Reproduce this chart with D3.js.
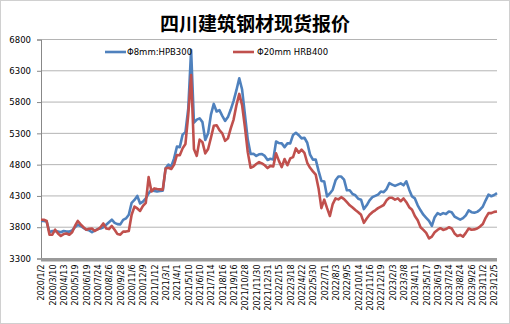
<!DOCTYPE html>
<html><head><meta charset="utf-8">
<script src="https://cdn.jsdelivr.net/npm/d3@7"></script>
<style>body{margin:0;background:#fff}svg{display:block}</style>
</head><body><svg id="c" width="510" height="324"></svg>
<script>
const title = "四川建筑钢材现货报价";
const seriesNames = ["Φ8mm:HPB300", "Φ20mm HRB400"];
const xLabels = ["2020/1/2","2020/3/10","2020/4/13","2020/5/19","2020/6/19","2020/7/24","2020/8/26","2020/9/28","2020/11/6","2020/12/9","2021/1/12","2021/3/1","2021/4/1","2021/5/10","2021/6/10","2021/7/14","2021/8/16","2021/9/16","2021/10/28","2021/11/30","2021/12/31","2022/2/15","2022/3/18","2022/4/22","2022/5/30","2022/7/1","2022/8/3","2022/9/5","2022/10/14","2022/11/16","2022/12/19","2023/2/3","2023/3/8","2023/4/11","2023/5/17","2023/6/19","2023/7/24","2023/8/24","2023/9/26","2023/11/2","2023/12/5"];
const yTicks = [3300,3800,4300,4800,5300,5800,6300,6800];
const hpb300 = [
3900,3900,3890,3720,3740,3740,3730,3720,3740,3730,
3730,3750,3800,3840,3820,3790,3760,3750,3720,3750,
3770,3780,3800,3840,3880,3920,3870,3850,3845,3917,
3940,4000,4190,4236,4300,4180,4210,4260,4340,4396,
4380,4370,4378,4385,4740,4800,4770,4900,5088,5080,
5280,5320,5700,6630,5470,5520,5540,5480,5193,5300,
5600,5770,5650,5670,5580,5500,5560,5680,5820,5990,
6180,6000,5600,5200,4970,4975,4940,4965,4970,4940,
4875,4895,4880,5170,5145,5140,5080,5140,5140,5275,
5310,5270,5220,5230,5150,4960,4880,4880,4700,4540,
4530,4292,4340,4400,4550,4610,4610,4560,4390,4390,
4330,4310,4255,4240,4090,4150,4230,4280,4300,4320,
4370,4360,4410,4506,4480,4460,4480,4500,4470,4533,
4400,4292,4260,4150,4070,4000,3950,3900,3820,3960,
4025,4000,4025,4010,4050,4040,3970,3944,3920,3944,
3990,4070,4040,4030,4045,4080,4130,4230,4320,4295,
4315,4345];
const hrb400 = [
3920,3920,3900,3680,3680,3760,3700,3660,3690,3700,
3680,3720,3820,3900,3845,3800,3760,3775,3780,3740,
3765,3800,3860,3780,3770,3820,3760,3690,3680,3730,
3730,3740,4000,4130,4100,4060,4140,4190,4600,4370,
4420,4410,4405,4400,4740,4750,4730,4800,4955,4950,
5060,5130,5600,6230,5050,4940,5200,5160,4980,5050,
5230,5420,5430,5350,5300,5180,5220,5380,5520,5750,
5930,5752,5400,5000,4750,4770,4810,4840,4820,4790,
4745,4780,4770,4980,4860,4760,4890,4790,4900,4920,
5060,4990,5040,4990,4830,4750,4693,4640,4420,4105,
4240,4105,3980,4170,4260,4245,4280,4250,4200,4150,
4115,4075,4040,3998,3870,3940,4000,4040,4070,4105,
4130,4155,4230,4270,4270,4240,4260,4215,4260,4200,
4120,4080,3980,3910,3800,3757,3710,3620,3650,3720,
3757,3784,3757,3770,3800,3780,3700,3661,3677,3650,
3710,3780,3760,3765,3780,3810,3850,3950,4025,4025,
4045,4050];
const colors = ["#4F81BD", "#C0504D"];
const labelStep = 4;

const svg = d3.select("#c");
const L = 41, R = 497, T = 39.5, B = 258.5;
const x = d3.scaleLinear().domain([0, hpb300.length - 1]).range([L, R]);
const y = d3.scaleLinear().domain([3300, 6800]).range([B, T]);

svg.append("rect").attr("x",0.5).attr("y",0.5).attr("width",509).attr("height",323)
  .attr("fill","#fff").attr("stroke","#d0d0d0");

svg.append("text").attr("x",255).attr("y",31).attr("text-anchor","middle")
  .attr("font-family","Noto Sans CJK SC").attr("font-weight","bold").attr("font-size",19)
  .attr("fill","#000").text(title);

// grid
svg.append("g").selectAll("line").data(yTicks.filter(v=>v>3300)).join("line")
  .attr("x1",L).attr("x2",R).attr("y1",d=>y(d)).attr("y2",d=>y(d))
  .attr("stroke","#b4b4b4").attr("stroke-width",1);

// y axis
const ya = svg.append("g").attr("transform",`translate(${L},0)`)
  .call(d3.axisLeft(y).tickValues(yTicks).tickSize(4).tickPadding(6).tickFormat(d3.format("d")));
ya.select(".domain").attr("stroke","#888");
ya.selectAll(".tick line").attr("stroke","#888");
ya.selectAll("text").attr("font-family","DejaVu Sans").attr("font-size",8.5).attr("fill","#000");

// x axis
const xa = svg.append("g").attr("transform",`translate(0,${B})`)
  .call(d3.axisBottom(x).tickValues(xLabels.map((d,i)=>i*labelStep)).tickSize(0)
    .tickFormat((d,i)=>xLabels[i]));
xa.select(".domain").remove();
xa.selectAll("text").attr("font-family","DejaVu Sans").attr("font-size",8).attr("fill","#000")
  .attr("transform","rotate(-90)").attr("text-anchor","end").attr("dy","0.35em")
  .attr("x",-6).attr("y",0);
svg.append("rect").attr("x",L).attr("y",B-0.5).attr("width",R-L).attr("height",3.5).attr("fill","#9a9a9a");

// lines
const line = d3.line().x((d,i)=>x(i)).y(d=>y(d));
[hpb300, hrb400].forEach((s,k)=>{
  svg.append("path").datum(s).attr("d",line).attr("fill","none")
    .attr("stroke",colors[k]).attr("stroke-width",2.6).attr("stroke-linejoin","round");
});

// legend
const lg = [{x:105,tx:127},{x:233,tx:257}];
seriesNames.forEach((n,k)=>{
  svg.append("line").attr("x1",lg[k].x).attr("x2",lg[k].x+21).attr("y1",52).attr("y2",52)
    .attr("stroke",colors[k]).attr("stroke-width",2.6);
  svg.append("text").attr("x",lg[k].tx).attr("y",55).attr("font-family","DejaVu Sans")
    .attr("font-size",8.5).attr("fill","#000").text(n);
});
</script></body></html>
